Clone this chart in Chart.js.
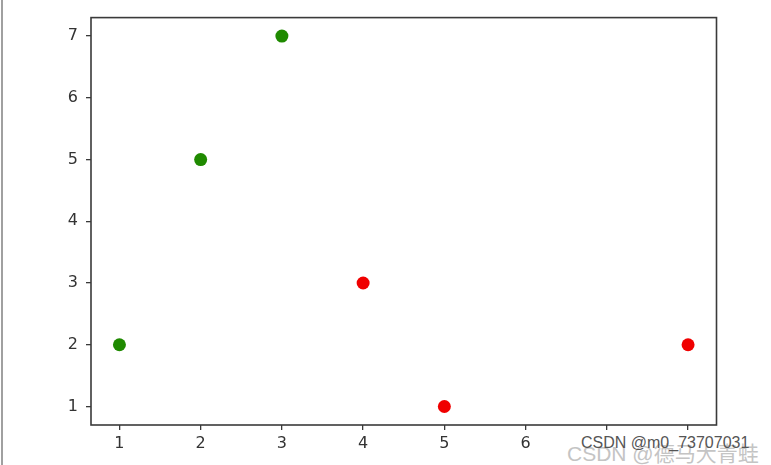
<!DOCTYPE html>
<html>
<head>
<meta charset="utf-8">
<script src="https://cdn.jsdelivr.net/npm/chart.js@4/dist/chart.umd.min.js"></script>
<style>
  html, body { margin: 0; padding: 0; background: #fff; }
  #wrap { position: relative; width: 771px; height: 465px; overflow: hidden; }
  #c { position: absolute; left: 0; top: 0; }
  #edge { position: absolute; left: 1px; top: 0; width: 2px; height: 465px; background: #a0a0a0; }
  #wm { position: absolute; left: 566px; top: 434px; width: 205px; height: 31px; background: #fff; }
  #wmBig { position: absolute; left: 1px; top: 3px; font-family: "Liberation Sans", "Noto Sans CJK SC", sans-serif; font-size: 21px; color: #c4c4c4; white-space: nowrap; }
  #wmSmall { position: absolute; left: 15px; top: 0px; font-family: "Liberation Sans", sans-serif; font-size: 16px; color: #555; white-space: nowrap; }
</style>
</head>
<body>
<div id="wrap">
  <canvas id="c" width="771" height="465"></canvas>
  <div id="edge"></div>
  <div id="wm"><span id="wmBig">CSDN @德马大青蛙</span><span id="wmSmall">CSDN @m0_73707031</span></div>
</div>
<script>
const greenX = [1, 2, 3];
const greenY = [2, 5, 7];
const redX = [4, 5, 8];
const redY = [3, 1, 2];
const xTicks = [1, 2, 3, 4, 5, 6, 7, 8];
const yTicks = [1, 2, 3, 4, 5, 6, 7];

const toPts = (xs, ys) => xs.map((x, i) => ({ x: x, y: ys[i] }));

const frame = {
  id: 'frame',
  afterDraw(chart) {
    const { ctx, chartArea: a } = chart;
    ctx.save();
    ctx.strokeStyle = '#3a3a3a';
    ctx.lineWidth = 1.6;
    ctx.strokeRect(a.left, a.top, a.right - a.left, a.bottom - a.top);
    ctx.restore();
  }
};

const font = { family: '"DejaVu Sans", sans-serif', size: 16 };

new Chart(document.getElementById('c'), {
  type: 'scatter',
  data: {
    datasets: [
      { data: toPts(greenX, greenY), backgroundColor: '#1f8a00', borderWidth: 0, pointRadius: 6.5, pointHoverRadius: 6.5 },
      { data: toPts(redX, redY), backgroundColor: '#f00000', borderWidth: 0, pointRadius: 6.5, pointHoverRadius: 6.5 }
    ]
  },
  options: {
    responsive: false,
    animation: false,
    events: [],
    layout: { padding: { left: 0, top: 16, right: 54.5, bottom: 0 } },
    plugins: { legend: { display: false }, tooltip: { enabled: false } },
    scales: {
      x: {
        type: 'linear', min: 0.65, max: 8.35,
        afterBuildTicks: s => { s.ticks = xTicks.map(v => ({ value: v })); },
        afterFit: s => { s.height = 40; },
        grid: { drawOnChartArea: false, drawTicks: true, tickLength: 5, color: '#3a3a3a', lineWidth: 1.3 },
        border: { display: false },
        ticks: { font: font, color: '#333', padding: 4, maxRotation: 0, autoSkip: false }
      },
      y: {
        type: 'linear', min: 0.7, max: 7.3,
        afterBuildTicks: s => { s.ticks = yTicks.map(v => ({ value: v })); },
        afterFit: s => { s.width = 91; },
        grid: { drawOnChartArea: false, drawTicks: true, tickLength: 5, color: '#3a3a3a', lineWidth: 1.3 },
        border: { display: false },
        ticks: { font: font, color: '#333', padding: 8, autoSkip: false }
      }
    }
  },
  plugins: [frame]
});
</script>
</body>
</html>
